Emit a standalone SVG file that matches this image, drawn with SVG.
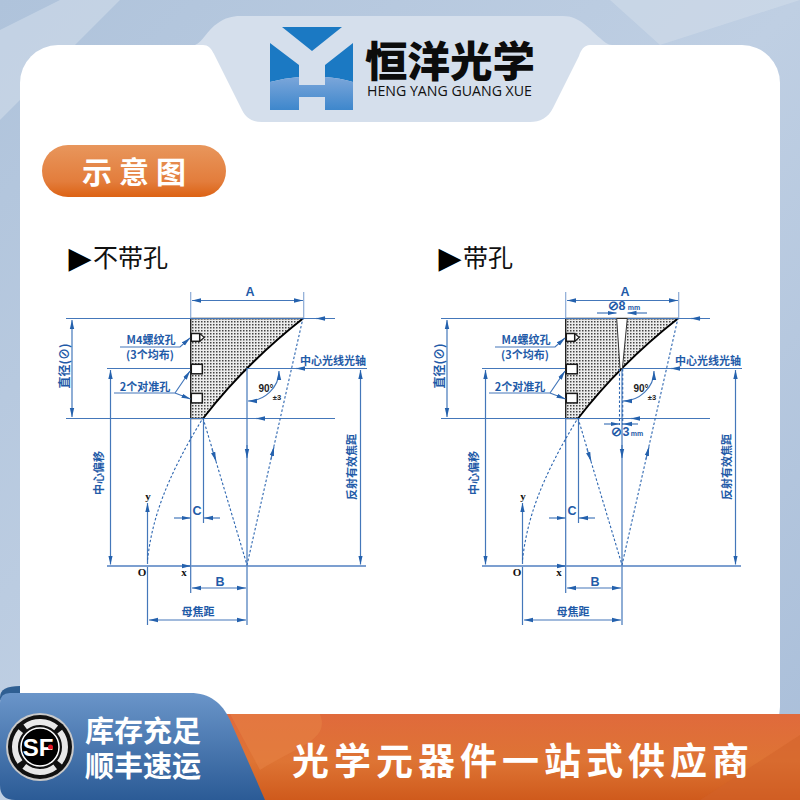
<svg xmlns="http://www.w3.org/2000/svg" width="800" height="800" viewBox="0 0 800 800">
<style>
.cn{font-family:"Noto Sans CJK SC","Liberation Sans",sans-serif}
.lb{font-family:"Noto Sans CJK SC","Liberation Sans",sans-serif;font-size:11px;font-weight:700;fill:#1f5ba8;text-anchor:middle}
.lg{font-size:12px}
.en{font-family:"Liberation Sans",sans-serif;font-size:12.5px;font-weight:700;fill:#1f5ba8;text-anchor:middle}
.ser{font-family:"Liberation Serif",serif;font-size:11px;font-weight:700;fill:#111;text-anchor:middle}
.blk{font-family:"Liberation Sans",sans-serif;fill:#222;font-weight:700;text-anchor:middle}
.l{stroke:#4477ba;stroke-width:1.2;fill:none}
.ax{stroke:#7c9fd0;stroke-width:2.2;fill:none}
.g{stroke:#8cabd6;stroke-width:1.2;fill:none}
.d{stroke:#2d66b0;stroke-width:1.1;stroke-dasharray:2.5 2;fill:none}
.o{stroke:#1a1a1a;stroke-width:1.5;fill:#fff}
</style>
<defs>
<linearGradient id="bgG" x1="0" y1="0" x2="1" y2="1"><stop offset="0" stop-color="#afc3db"/><stop offset=".5" stop-color="#bfcfe3"/><stop offset="1" stop-color="#a9bed9"/></linearGradient>
<linearGradient id="badge" x1="0" y1="0" x2="0" y2="1"><stop offset="0" stop-color="#e8965c"/><stop offset=".7" stop-color="#e37d3c"/><stop offset="1" stop-color="#dc6214"/></linearGradient>
<linearGradient id="blue" x1="0" y1="0" x2="0" y2="1"><stop offset="0" stop-color="#6a95c9"/><stop offset="1" stop-color="#2b5b96"/></linearGradient>
<linearGradient id="org" x1="0" y1="0" x2="0" y2="1"><stop offset="0" stop-color="#e06a3c"/><stop offset=".55" stop-color="#de7434"/><stop offset="1" stop-color="#cf5a1c"/></linearGradient>
<linearGradient id="low" x1="0" y1="0" x2="0" y2="1"><stop offset="0" stop-color="#7ba6da"/><stop offset="1" stop-color="#3e87cc"/></linearGradient>
<pattern id="dots" width="3" height="3" patternUnits="userSpaceOnUse"><rect width="3" height="3" fill="#ececec"/><rect width="1.500" height="1.500" fill="#444"/></pattern>
<marker id="a" markerUnits="userSpaceOnUse" markerWidth="10" markerHeight="6" refX="9" refY="3" orient="auto-start-reverse"><path d="M0,0.8 L9,3 L0,5.2 Z" fill="#2461ad"/></marker>
<g id="part">
 <path d="M190.7,318.5 H303 Q245,364 203,418.5 H190.700 Z" fill="url(#dots)"/>
 <path d="M190.7,318.5 H303" stroke="#333" stroke-width="1.4" fill="none"/>
 <path d="M190.7,418.5 H203" stroke="#222" stroke-width="1.4" fill="none"/>
 <path d="M190.7,318.5 V418.5" stroke="#222" stroke-width="1.4" fill="none"/>
 <path d="M303,318.5 Q245,364 203,418.5" stroke="#000" stroke-width="1.9" fill="none"/>
 <path d="M199.7,333.5 L204.2,337.4 L199.7,341.3" fill="#fff" stroke="#1a1a1a" stroke-width="1.2"/>
 <rect class="o" x="191.300" y="333.500" width="8.400" height="7.800"/>
 <rect class="o" x="191.300" y="364.300" width="11" height="9.500"/>
 <rect class="o" x="191.300" y="393.400" width="11" height="9.500"/>
 <path class="g" d="M190.7,292 V318 M303.7,292 V318"/>
 <path class="l" d="M66,318.5 H335 M107,368.5 H190 M247,368.5 H367 M66,418.5 H335"/>
 <path class="l" d="M190.7,418 V593 M203.5,418 V523 M247,368 V625 M147.5,566 V625"/>
 <path class="ax" d="M107,566 H366"/>
 <path class="l" d="M192,300.500 H303" marker-start="url(#a)" marker-end="url(#a)"/>
 <path class="l" d="M72,320 V417" marker-start="url(#a)" marker-end="url(#a)"/>
 <path class="l" d="M110.500,370 V564.500" marker-start="url(#a)" marker-end="url(#a)"/>
 <path class="l" d="M360.500,370 V564.500" marker-start="url(#a)" marker-end="url(#a)"/>
 <path class="l" d="M326,318.500 H316" marker-end="url(#a)"/>
 <path class="l" d="M305,368.500 H296" marker-end="url(#a)"/>
 <path class="l" d="M265,418.500 H256" marker-end="url(#a)"/>
 <path class="l" d="M247,445 V458" marker-end="url(#a)"/>
 <path class="l" d="M174,518 H190.500" marker-end="url(#a)"/>
 <path class="l" d="M220,518 H204" marker-end="url(#a)"/>
 <path class="l" d="M192,588 H246" marker-start="url(#a)" marker-end="url(#a)"/>
 <path class="l" d="M149,620 H246" marker-start="url(#a)" marker-end="url(#a)"/>
 <path class="l" d="M147.500,564 V503" marker-end="url(#a)"/>
 <path class="l" d="M182,566 H191" marker-end="url(#a)"/>
 <path class="l" d="M120,347 H180 L190,338" marker-end="url(#a)"/>
 <path class="l" d="M114,393 H175 L190,371" marker-end="url(#a)"/>
 <path class="l" d="M175,393 L190.500,399" marker-end="url(#a)"/>
 <path class="l" d="M248,401 C264,401 279,388 279,371" marker-start="url(#a)" marker-end="url(#a)"/>
 <path class="d" d="M147.500,560 C152,520 165,480 203,418"/>
 <path class="d" d="M203,418 L247,565 L303,318"/>
 <path class="l" d="M212,449 L216,461" marker-end="url(#a)"/>
 <path class="l" d="M274,447 L271,459" marker-start="url(#a)"/>
</g>
</defs>
<rect id="background" width="800" height="800" fill="url(#bgG)"/>
<path d="M0,30 L60,0 H120 L0,120 Z M610,0 L660,45 L800,0 Z" fill="#d0dcea" opacity=".6"/>
<path d="M0,697 Q0,686 20,686 V700 H0 Z" fill="#2f5f92"/>
<rect id="panel" x="20" y="45" width="760" height="700" rx="38" fill="#fff"/>
<path id="tab" d="M195,45 C203,42 207,30 218,23 C225,18 232,16 240,16 H563 C580,16 590,30 600,38 C604,42 608,45 612,45 H590 C584,45 581,50 579,56 L553,108 C548,118 540,122 530,122 H262 C252,122 246,118 242,110 L214,54 C211,48 208,45 203,45 Z" fill="#d5dfec"/>
<g id="logo">
 <path d="M282,27 H342 L312,51 Z" fill="#1b79c3"/>
 <path d="M270,43 L299,65 V77 Q285,78 270,82 Z M353,43 L325,65 V77 Q340,78 353,82 Z" fill="#1b79c3"/>
 <path d="M270,82 Q285,78 299,77 V85 H325 V77 Q340,78 353,82 V110 H325 V97 H299 V110 H270 Z" fill="url(#low)"/>
 <text class="cn" x="365" y="77" font-size="42.5" font-weight="900" fill="#0c0c0c" textLength="170" lengthAdjust="spacingAndGlyphs">恒洋光学</text>
 <text x="367" y="96" font-family="'Open Sans','Liberation Sans',sans-serif" font-size="14" fill="#111" textLength="165" lengthAdjust="spacingAndGlyphs">HENG YANG GUANG XUE</text>
</g>
<g id="badge-group">
 <rect x="42" y="145" width="184" height="52" rx="26" fill="url(#badge)"/>
 <text class="cn" x="82" y="183" font-size="30" font-weight="700" fill="#fff" letter-spacing="7">示意图</text>
</g>
<g id="heading-left">
 <text x="68.500" y="268" font-family="'DejaVu Sans',sans-serif" font-size="30" fill="#000">▶</text>
 <text class="cn" x="93" y="267" font-size="25" fill="#111">不带孔</text>
</g>
<g id="heading-right">
 <text x="438.500" y="268" font-family="'DejaVu Sans',sans-serif" font-size="30" fill="#000">▶</text>
 <text class="cn" x="463" y="267" font-size="25" fill="#111">带孔</text>
</g>
<g id="connectors">
<use href="#part"/>
<use href="#part" x="375"/>
<g id="hole">
 <path d="M616.700,318.500 H627.300 L622.400,368.500 H620 Z" fill="#fff" stroke="#333" stroke-width="1"/>
 <path class="d" d="M619.500,369 V425 M622.700,369 V425"/>
 <path class="l" d="M597,313 H616.500" marker-end="url(#a)"/>
 <path class="l" d="M647,313 H627.500" marker-end="url(#a)"/>
 <path class="l" d="M604,424 H619.500" marker-end="url(#a)"/>
 <path class="l" d="M638,424 H623" marker-end="url(#a)"/>
</g>
</g>
<g id="labels-left">
 <text class="en" x="250" y="296">A</text>
 <text class="lb" x="151" y="344">M4螺纹孔</text>
 <text class="lb" x="150" y="359">(3个均布)</text>
 <text class="lb" x="145" y="391">2个对准孔</text>
 <text class="lb" x="333" y="365">中心光线光轴</text>
 <text class="lb lg" transform="translate(68.500,366) rotate(-90)">直径(⊘)</text>
 <text class="lb" transform="translate(103,473) rotate(-90)">中心偏移</text>
 <text class="lb" transform="translate(356,467) rotate(-90)">反射有效焦距</text>
 <text class="blk" x="266" y="392" font-size="10">90°</text>
 <text class="blk" x="277" y="400" font-size="7.500">±3</text>
 <text class="ser" x="148" y="500">y</text>
 <text class="ser" x="142" y="576">O</text>
 <text class="ser" x="184" y="576">x</text>
 <text class="en" x="197" y="515">C</text>
 <text class="en" x="220" y="586">B</text>
 <text class="lb" x="198" y="616">母焦距</text>
</g>
<g id="labels-right">
 <text class="en" x="625" y="296">A</text>
 <text class="lb" x="526" y="344">M4螺纹孔</text>
 <text class="lb" x="525" y="359">(3个均布)</text>
 <text class="lb" x="520" y="391">2个对准孔</text>
 <text class="lb" x="708" y="365">中心光线光轴</text>
 <text class="lb lg" transform="translate(443.500,366) rotate(-90)">直径(⊘)</text>
 <text class="lb" transform="translate(478,473) rotate(-90)">中心偏移</text>
 <text class="lb" transform="translate(731,467) rotate(-90)">反射有效焦距</text>
 <text class="blk" x="641" y="392" font-size="10">90°</text>
 <text class="blk" x="652" y="400" font-size="7.500">±3</text>
 <text class="ser" x="523" y="500">y</text>
 <text class="ser" x="517" y="576">O</text>
 <text class="ser" x="559" y="576">x</text>
 <text class="en" x="572" y="515">C</text>
 <text class="en" x="595" y="586">B</text>
 <text class="lb" x="573" y="616">母焦距</text>
 <text class="en" x="613" y="310">⊘</text>
 <text class="en" x="622" y="310">8</text>
 <text class="en" x="634" y="310" style="font-size:7px">mm</text>
 <text class="en" x="616" y="436">⊘</text>
 <text class="en" x="626" y="436">3</text>
 <text class="en" x="637" y="436" style="font-size:7px">mm</text>
</g>
<g id="footer">
 <rect x="200" y="714" width="600" height="86" fill="url(#org)"/>
 <path d="M230,714 H320 C330,740 300,745 260,770 Z" fill="#e78346" opacity=".5"/>
 <path d="M700,800 L800,735 V800 Z" fill="#d2622a" opacity=".5"/>
 <path d="M0,703 Q0,693 10,693 H190 C210,693 222,703 230,720 L265,800 H15 Q0,800 0,785 Z" fill="url(#blue)"/>
 <text class="cn" x="292" y="775" font-size="37" font-weight="700" fill="#fff" letter-spacing="5">光学元器件一站式供应商</text>
 <text class="cn" x="85" y="742" font-size="29" font-weight="700" fill="#fff">库存充足</text>
 <text class="cn" x="85" y="777" font-size="29" font-weight="700" fill="#fff">顺丰速运</text>
</g>
<g id="sf">
 <circle cx="40" cy="747" r="34" fill="#c9c9c9"/>
 <circle cx="40" cy="747" r="32" fill="#111"/>
 <circle cx="40" cy="747" r="25" fill="none" stroke="#e8e8e8" stroke-width="6" stroke-dasharray="33 6.270" transform="rotate(-38 40 747)"/>
 <circle cx="40" cy="747" r="19" fill="#000" stroke="#fff" stroke-width="1.500"/>
 <text x="38" y="756" font-family="'Liberation Sans',sans-serif" font-size="24" font-weight="700" fill="#fff" text-anchor="middle">SF</text>
 <circle cx="50.500" cy="747" r="2.500" fill="#e01020"/>
</g>
</svg>
